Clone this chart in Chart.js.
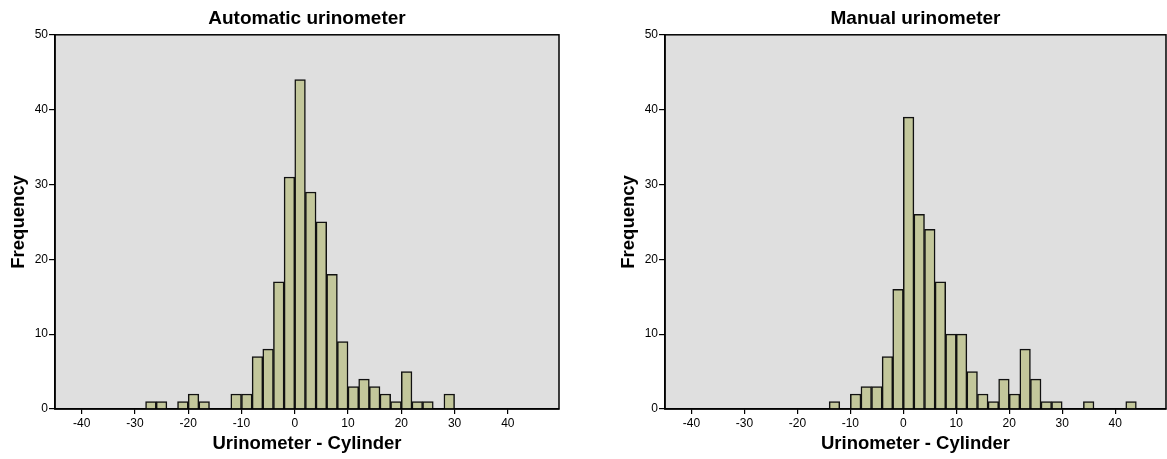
<!DOCTYPE html>
<html>
<head>
<meta charset="utf-8">
<script src="https://cdn.jsdelivr.net/npm/chart.js@4.4.1/dist/chart.umd.min.js"></script>
<style>
    body { margin:0; background:#fff; }
    #wrapAuto   { position:absolute; left:0;   top:0; width:580px; height:459px; }
    #wrapManual { position:absolute; left:610px; top:0; width:557px; height:459px; }
</style>
</head>
<body>
<div id="wrapAuto"><canvas id="chartAuto" width="580" height="459"></canvas></div>
<div id="wrapManual"><canvas id="chartManual" width="557" height="459"></canvas></div>
<script>
// bins are 2 units wide, value = left edge of bin
var autoBins     = [-28,-26,-22,-20,-18,-12,-10,-8,-6,-4,-2,0,2,4,6,8,10,12,14,16,18,20,22,24,28];
var autoCounts   = [1,1,1,2,1,2,2,7,8,17,31,44,29,25,18,9,3,4,3,2,1,5,1,1,2];

var manualBins   = [-14,-10,-8,-6,-4,-2,0,2,4,6,8,10,12,14,16,18,20,22,24,26,28,34,42];
var manualCounts = [1,2,3,3,7,16,39,26,24,17,10,10,5,2,1,4,2,8,4,1,1,1,1];

var xTicks = [-40,-30,-20,-10,0,10,20,30,40];
var yTicks = [0,10,20,30,40,50];
var binWidth = 2;

var fontName = "'Liberation Sans', Arial, sans-serif";

var framePlugin = {
    id: 'frame',
    beforeDraw: function (chart) {
        var a = chart.chartArea, ctx = chart.ctx;
        ctx.save();
        ctx.fillStyle = '#dfdfdf';
        ctx.fillRect(a.left, a.top, a.right - a.left, a.bottom - a.top);
        ctx.restore();
    },
    afterDraw: function (chart) {
        var a = chart.chartArea, ctx = chart.ctx;
        ctx.save();
        ctx.strokeStyle = '#000';
        ctx.lineWidth = 1.5;
        ctx.strokeRect(a.left, a.top, a.right - a.left, a.bottom - a.top);
        ctx.restore();
    }
};

function createChart(id, title, bins, counts, rightPad) {
    var ctx = document.getElementById(id).getContext('2d');
    new Chart(ctx, {
        type: 'bar',
        data: {
            datasets: [{
                data: bins.map((b, i) => ({ x: b + binWidth / 2, y: counts[i] })),
                backgroundColor : '#c3c79b',
                borderColor     : '#111',
                borderWidth     : 1.5,
                barPercentage   : 1,
                categoryPercentage: 1
            }]
        },
        options: {
            responsive: false,
            animation: false,
            layout: { padding: { left: 0, right: rightPad, top: 0, bottom: 0 } },
            plugins: {
                legend: { display: false },
                tooltip: { enabled: false },
                title: {
                    display: true,
                    text: title,
                    fullSize: false,
                    color: '#000',
                    font: { family: fontName, size: 19, weight: 'bold' },
                    padding: { top: 7, bottom: 5 }
                }
            },
            scales: {
                x: {
                    type: 'linear',
                    offset: false,
                    min: -45,
                    max: 49.6,
                    afterBuildTicks: function (scale) {
                        scale.ticks = xTicks.map(v => ({ value: v }));
                    },
                    afterFit: function (scale) { scale.height = 50; },
                    grid: { offset: false, drawOnChartArea: false, drawTicks: true, tickLength: 5, color: '#000', lineWidth: 1.2 },
                    border: { display: true, color: '#000', width: 1.5 },
                    ticks: { color: '#000', padding: 2, maxRotation: 0, font: { family: fontName, size: 12 } },
                    title: {
                        display: true,
                        text: 'Urinometer - Cylinder',
                        color: '#000',
                        font: { family: fontName, size: 18.5, weight: 'bold' },
                        padding: { top: 0, bottom: 4 }
                    }
                },
                y: {
                    min: 0,
                    max: 50,
                    afterBuildTicks: function (scale) {
                        scale.ticks = yTicks.map(v => ({ value: v }));
                    },
                    afterFit: function (scale) { scale.width = 55; },
                    grid: { drawOnChartArea: false, drawTicks: true, tickLength: 6, color: '#000', lineWidth: 1.2 },
                    border: { display: true, color: '#000', width: 1.5 },
                    ticks: { color: '#000', padding: 1, font: { family: fontName, size: 12 } },
                    title: {
                        display: true,
                        text: 'Frequency',
                        color: '#000',
                        font: { family: fontName, size: 18.5, weight: 'bold' },
                        padding: { top: 8, bottom: 0 }
                    }
                }
            }
        },
        plugins: [framePlugin]
    });
}

createChart('chartAuto', 'Automatic urinometer', autoBins, autoCounts, 21);
createChart('chartManual', 'Manual urinometer', manualBins, manualCounts, 1);
</script>
</body>
</html>
